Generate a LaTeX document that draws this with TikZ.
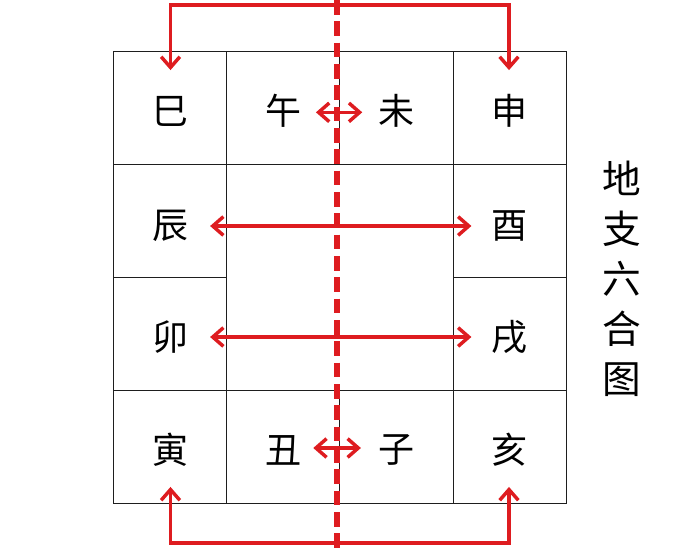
\documentclass[tikz,border=0pt]{standalone}
\usepackage{fontspec}
\newfontfamily\cjk{Noto Sans CJK SC}
\usetikzlibrary{arrows.meta}
\definecolor{linkred}{RGB}{222,28,32}
\definecolor{gridgray}{RGB}{30,30,30}
\begin{document}
\begin{tikzpicture}[x=0.75pt,y=-0.75pt,
  zhi/.style={font=\cjk\fontsize{27pt}{27pt}\selectfont, inner sep=0pt, minimum size=27pt, anchor=center},
  gridline/.style={draw=gridgray, line width=0.7pt},
  tip/.style={Straight Barb[length=8pt,width=14pt,line width=2.6pt]},
  link/.style={draw=linkred, line width=2.6pt, {Straight Barb[length=8pt,width=14pt,line width=2.6pt]}-{Straight Barb[length=8pt,width=14pt,line width=2.6pt]}},
  axis/.style={draw=linkred, line width=4pt, dash pattern=on 11pt off 5pt}]
\useasboundingbox (0,0) rectangle (680,553);
\fill[white] (0,0) rectangle (680,553);
% grid
\draw[gridline] (113,51) rectangle (566,503);
\draw[gridline] (113,164) -- (566,164);
\draw[gridline] (113,390) -- (566,390);
\draw[gridline] (113,277) -- (226,277);
\draw[gridline] (453,277) -- (566,277);
\draw[gridline] (226,51) -- (226,503);
\draw[gridline] (453,51) -- (453,503);
\draw[gridline] (339.5,51) -- (339.5,164);
\draw[gridline] (339.5,390) -- (339.5,503);
% characters
\node[zhi] (si) at (170.5,111) {巳};
\node[zhi] (wu) at (283,111) {午};
\node[zhi] (wei) at (396.5,111) {未};
\node[zhi] (shen) at (509,111) {申};
\node[zhi] (chen) at (170.5,226) {辰};
\node[zhi] (you) at (509,226) {酉};
\node[zhi] (mao) at (170.5,337) {卯};
\node[zhi] (xu) at (509,337) {戌};
\node[zhi] (yin) at (170.5,450) {寅};
\node[zhi] (chou) at (283,450) {丑};
\node[zhi] (zi) at (396.5,450) {子};
\node[zhi] (hai) at (509,450) {亥};
% title
\node[font=\cjk\fontsize{29pt}{37.5pt}\selectfont, align=center, inner sep=0pt] (title) at (622,279) {地\\支\\六\\合\\图};
% axis
\coordinate (axtop) at (337,0);
\coordinate (axbot) at (337,553);
\draw[axis] (axtop) -- (axbot);
% links
\coordinate (topbar) at (338,5);
\coordinate (botbar) at (338,543);
\draw[link, shorten <=17pt, shorten >=17pt] (si.north) |- (topbar) -| (shen.north);
\draw[link, shorten <=14pt, shorten >=14pt] (yin.south) |- (botbar) -| (hai.south);
\draw[link, shorten <=16pt, shorten >=14.5pt] (chen.east) -- (you.west);
\draw[link, shorten <=16pt, shorten >=14.5pt] (mao.east) -- (xu.west);
\draw[link, shorten <=11pt, shorten >=12pt] ([yshift=-1pt]wu.east) -- ([yshift=-1pt]wei.west);
\draw[link, shorten <=9pt, shorten >=13pt] ([yshift=1.5pt]chou.east) -- ([yshift=1.5pt]zi.west);
\end{tikzpicture}
\end{document}
